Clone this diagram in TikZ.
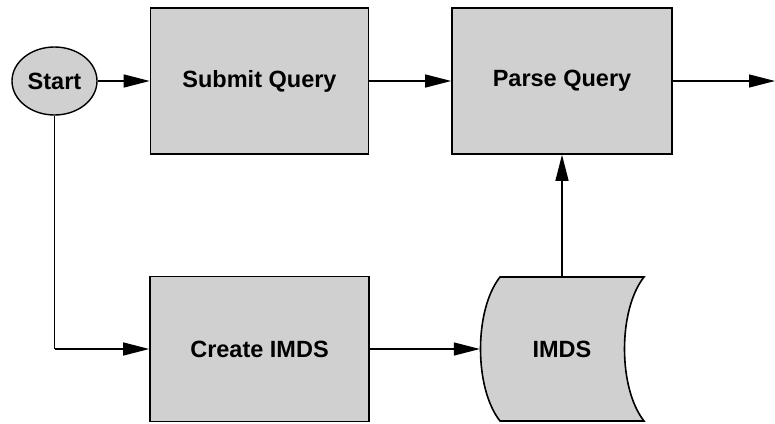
\documentclass[tikz,border=0pt]{standalone}
\usepackage{fontspec}
\setmainfont{Liberation Sans}
\usetikzlibrary{arrows.meta,shapes.geometric}
\definecolor{boxgray}{RGB}{208,208,208}
\tikzset{
  labelfont/.style={font=\fontsize{23.5}{27}\selectfont\bfseries},
  flowbox/.style={draw=black, line width=1.6pt, fill=boxgray, minimum width=218pt, minimum height=146pt, inner sep=0pt, labelfont},
  startnode/.style={ellipse, draw=black, line width=1.4pt, fill=boxgray, minimum width=85pt, minimum height=68pt, inner sep=0pt, labelfont},
  flowarrow/.style={line width=1.3pt, -{Triangle[length=26pt,width=13pt]}},
  flowline/.style={line width=1.3pt}
}
\begin{document}
\begin{tikzpicture}[x=1pt,y=-1pt]
\useasboundingbox (0,0) rectangle (775,423);
\node[startnode] (start) at (54.5,81) {Start};
\node[flowbox] (submit) at (259.5,81) {Submit Query};
\node[flowbox, minimum width=220pt] (parse) at (562,81) {Parse Query};
\node[flowbox, minimum width=219pt, minimum height=145pt] (create) at (259.5,349) {Create IMDS};
\node[minimum width=164pt, minimum height=145pt, inner sep=0pt, labelfont] (imds) at (562,349) {};
\draw[line width=1.6pt, fill=boxgray]
  (500,277) -- (644,277)
  .. controls (618,310) and (618,388) .. (644,421)
  -- (500,421)
  .. controls (474,388) and (474,310) .. (500,277) -- cycle;
\node[labelfont] (imdstext) at (imds.center) {IMDS};
\coordinate (outend) at (775,81);
\coordinate (corner) at (start.south |- create.west);
\draw[flowarrow] (start.east) -- (submit.west);
\draw[flowarrow] (submit.east) -- (parse.west);
\draw[flowarrow] (parse.east) -- (outend);
\draw[flowline] (start.south) -- (corner);
\draw[flowarrow] (corner) -- (create.west);
\draw[flowarrow] (create.east) -- (imds.west);
\draw[flowarrow] (imds.north) -- (parse.south);
\end{tikzpicture}
\end{document}
